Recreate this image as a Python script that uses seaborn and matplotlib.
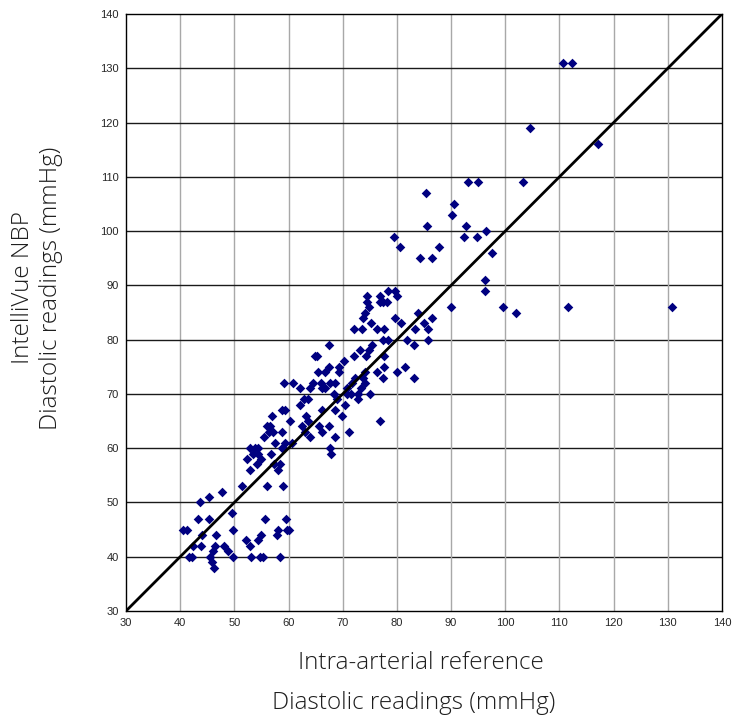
import matplotlib
matplotlib.use("Agg")
import matplotlib.pyplot as plt
import seaborn as sns
import pandas as pd

# Intra-arterial reference (x) vs IntelliVue NBP (y), diastolic, mmHg
ref_low = [40.6, 41.3, 41.7, 42.2, 42.3, 43.3, 43.7, 43.8, 44.0, 45.4, 45.4, 45.5, 45.8, 46.1,
           46.2, 46.4, 46.7, 47.7, 48.1, 48.9, 49.6, 49.8, 49.8, 51.5, 52.1, 52.8, 53.0, 54.4,
           54.7, 55.0, 55.3, 55.6, 56.0, 57.8, 58.1, 58.5, 59.0, 59.5, 59.7, 60.0]
nbp_low = [45, 45, 40, 40, 42, 47, 50, 42, 44, 51, 47, 40, 39, 41,
           38, 42, 44, 52, 42, 41, 48, 45, 40, 53, 43, 42, 40, 43,
           40, 44, 40, 47, 53, 44, 45, 40, 53, 47, 45, 45]

ref_mid1 = [52.3, 52.9, 52.9, 53.5, 53.8, 54.2, 54.3, 54.4, 54.9, 55.4, 56.0, 56.5, 56.4, 56.7,
            56.9, 57.1, 57.3, 57.5, 58.1, 58.4, 58.7, 58.8, 58.7, 59.0, 59.3, 59.3, 60.3, 60.6,
            59.2, 60.9]
nbp_mid1 = [58, 56, 60, 59, 60, 57, 60, 59, 58, 62, 64, 64, 63, 59,
            66, 63, 57, 61, 56, 57, 60, 63, 67, 60, 61, 67, 65, 61,
            72, 72]

ref_mid2 = [62.2, 62.2, 62.9, 63.6, 62.4, 63.0, 63.3, 63.6, 63.9, 64.0, 64.6, 64.9, 65.3, 65.5,
            65.7, 66.0, 66.1, 66.1, 66.2, 66.7, 66.8, 67.5, 67.5, 67.6, 67.5, 67.7, 67.9, 68.5,
            68.4, 68.9, 68.6, 68.5, 69.4, 69.4, 69.9, 70.2, 70.4, 70.7, 70.7, 71.2, 71.5, 71.7,
            72.0, 72.0, 72.3, 72.9, 72.9, 73.2, 73.3, 73.6, 73.8, 73.8, 74.1, 74.2, 74.2, 74.3,
            74.4, 74.4, 74.8, 74.9, 75.0, 75.3, 75.4, 76.3, 76.3, 76.8, 76.8, 76.9, 77.4, 77.5,
            77.5, 77.6, 77.6, 77.7, 78.2, 78.3, 78.3, 79.6, 79.7, 80.1, 80.1, 80.8, 81.5, 81.9,
            83.1, 83.2, 83.3, 83.9, 85.0, 85.8, 85.8, 86.5]
nbp_mid2 = [71, 68, 69, 69, 64, 63, 66, 65, 62, 71, 72, 77, 77, 74,
            64, 72, 71, 63, 67, 71, 74, 79, 75, 72, 64, 60, 59, 67,
            70, 69, 62, 72, 75, 74, 66, 76, 68, 70, 71, 63, 70, 72,
            82, 77, 73, 70, 69, 78, 71, 82, 84, 73, 74, 72, 85, 77,
            88, 87, 78, 86, 70, 83, 79, 82, 74, 88, 65, 87, 80, 87,
            73, 82, 75, 77, 87, 89, 80, 84, 89, 88, 74, 83, 75, 80,
            79, 73, 82, 85, 83, 82, 80, 84]

ref_high = [79.5, 80.6, 84.2, 86.4, 87.7, 85.3, 85.6, 90.2, 90.6, 92.7, 92.4, 94.7, 96.4, 93.2,
            95.0, 103.2, 104.6, 110.7, 112.3, 117.1, 97.5, 96.3, 96.3, 90.0, 99.6, 101.9, 111.6,
            130.7]
nbp_high = [99, 97, 95, 95, 97, 107, 101, 103, 105, 101, 99, 99, 100, 109,
            109, 109, 119, 131, 131, 116, 96, 91, 89, 86, 86, 85, 86,
            86]

ticks = [30, 40, 50, 60, 70, 80, 90, 100, 110, 120, 130, 140]
identity = [30, 140]

df = pd.DataFrame({
    "ref": ref_low + ref_mid1 + ref_mid2 + ref_high,
    "nbp": nbp_low + nbp_mid1 + nbp_mid2 + nbp_high,
})

sns.set_style("white")
plt.rcParams["font.family"] = ["Liberation Sans Narrow", "Liberation Sans", "DejaVu Sans"]

fig = plt.figure(figsize=(7.33, 7.25), dpi=100)
ax = fig.add_axes([126 / 733, 1 - 611 / 725, 596 / 733, 597 / 725])

# grid
for t in ticks[1:-1]:
    ax.axvline(t, color="#a8a8a8", lw=1.0, zorder=0)
    ax.axhline(t, color="#1a1a1a", lw=1.0, zorder=0)

sns.scatterplot(data=df, x="ref", y="nbp", marker="D", s=24, color="#000080",
                edgecolor="#000080", linewidth=0, ax=ax, zorder=2)
sns.lineplot(x=identity, y=identity, color="black", lw=2.0, ax=ax, zorder=3)

ax.set_xlim(30, 140)
ax.set_ylim(30, 140)
ax.set_xticks(ticks)
ax.set_yticks(ticks)
ax.tick_params(axis="both", labelsize=8, length=3, width=0.8, color="black", pad=2,
               direction="out")
for s in ax.spines.values():
    s.set_color("black")
    s.set_linewidth(1.0)

ax.set_xlabel("")
ax.set_ylabel("")
lab_font = ["Open Sans", "DejaVu Sans"]
lab_kw = dict(ha="center", va="center", fontsize=17.5, family=lab_font,
              color="#1e1e1e", fontweight="light")
fig.text(421 / 733, 1 - 663 / 725, "Intra-arterial reference", **lab_kw)
fig.text(414 / 733, 1 - 703 / 725, "Diastolic readings (mmHg)", **lab_kw)
fig.text(23 / 733, 1 - 288 / 725, "IntelliVue NBP", rotation=90, **lab_kw)
fig.text(51 / 733, 1 - 288 / 725, "Diastolic readings (mmHg)", rotation=90, **lab_kw)

fig.savefig("out.png", dpi=100, facecolor="white")
